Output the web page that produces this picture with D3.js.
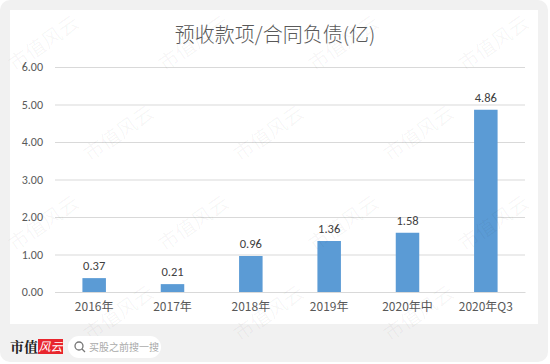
<!DOCTYPE html>
<html>
<head>
<meta charset="utf-8">
<script src="https://cdn.jsdelivr.net/npm/d3@7"></script>
<style>
  html, body { margin: 0; padding: 0; background: #fff; }
  svg { display: block; }
</style>
</head>
<body>
<svg id="chart"></svg>
<script>
const categories = ['2016年', '2017年', '2018年', '2019年', '2020年中', '2020年Q3'];
const values = [0.37, 0.21, 0.96, 1.36, 1.58, 4.86];
const yTicks = [0, 1, 2, 3, 4, 5, 6];

const w = 550;
const h = 364;
const fontCn = '"Noto Sans CJK SC", "Microsoft YaHei", sans-serif';
const fontNum = 'Calibri, Carlito, "Liberation Sans", "Open Sans", sans-serif';

const svg = d3.select('#chart').attr('width', w).attr('height', h);

// outer gray card + white panel
svg.append('rect').attr('x', 0).attr('y', 0).attr('width', w - 2).attr('height', h - 2)
  .attr('rx', 10).attr('fill', '#f1f1f1');
svg.append('rect').attr('x', 10).attr('y', 10).attr('width', 528).attr('height', 314)
  .attr('fill', '#ffffff');

const xScale = d3.scaleBand()
  .domain(categories)
  .range([55, 525])
  .paddingInner(0.7)
  .paddingOuter(0.35);

const yScale = d3.scaleLinear()
  .domain([0, 6])
  .range([292, 67]);

// title
svg.append('text')
  .attr('x', 275).attr('y', 42)
  .attr('text-anchor', 'middle')
  .attr('font-family', fontCn)
  .attr('font-weight', 300)
  .attr('font-size', 20)
  .attr('fill', '#595959')
  .text('预收款项/合同负债(亿)');

// gridlines + y labels
const yAxis = d3.axisLeft(yScale)
  .tickValues(yTicks)
  .tickSize(-470)
  .tickPadding(12)
  .tickFormat(d3.format('.2f'));

const gy = svg.append('g')
  .attr('transform', 'translate(55,0)')
  .call(yAxis);
gy.select('.domain').remove();
gy.selectAll('.tick line').attr('stroke', '#d9d9d9').attr('stroke-width', 1);
gy.selectAll('.tick text')
  .attr('font-family', fontNum)
  .attr('font-size', 12)
  .attr('fill', '#595959');

// x labels
const xAxis = d3.axisBottom(xScale).tickSize(0).tickPadding(10);
const gx = svg.append('g')
  .attr('transform', 'translate(0,292)')
  .call(xAxis);
gx.select('.domain').attr('stroke', '#d9d9d9');
gx.selectAll('.tick text')
  .attr('font-family', fontCn)
  .attr('font-size', 12)
  .attr('fill', '#595959');

// bars
svg.selectAll('rect.bar')
  .data(values)
  .enter()
  .append('rect')
  .attr('class', 'bar')
  .attr('x', (d, i) => xScale(categories[i]))
  .attr('y', (d) => yScale(d))
  .attr('width', xScale.bandwidth())
  .attr('height', (d) => yScale(0) - yScale(d))
  .attr('fill', '#5b9bd5');

// value labels
svg.selectAll('text.val')
  .data(values)
  .enter()
  .append('text')
  .attr('class', 'val')
  .attr('x', (d, i) => xScale(categories[i]) + xScale.bandwidth() / 2)
  .attr('y', (d) => yScale(d) - 8)
  .attr('text-anchor', 'middle')
  .attr('font-family', fontNum)
  .attr('font-size', 12.5)
  .attr('fill', '#404040')
  .text((d) => d.toFixed(2));

// watermark, kept inside the picture
const wm = svg.append('g').attr('pointer-events', 'none');
for (let r = 0; r < 4; r++) {
  for (let c = 0; c < 4; c++) {
    const x = c * 150 + (r % 2) * 75 + 15;
    const y = r * 90 + 72;
    if (x > 470) continue;
    wm.append('text')
      .attr('transform', 'translate(' + x + ',' + y + ') rotate(-35)')
      .attr('font-family', fontCn)
      .attr('font-size', 20)
      .attr('fill', '#000')
      .attr('fill-opacity', 0.04)
      .text('市值风云');
  }
}

// footer
svg.append('text')
  .attr('x', 10).attr('y', 352)
  .attr('font-family', '"Noto Serif CJK SC", ' + fontCn)
  .attr('font-weight', 'bold')
  .attr('font-size', 14)
  .attr('fill', '#222')
  .text('市值');
svg.append('rect').attr('x', 38).attr('y', 339).attr('width', 25).attr('height', 15)
  .attr('fill', '#e8262d');
svg.append('text')
  .attr('x', 50.5).attr('y', 351)
  .attr('text-anchor', 'middle')
  .attr('font-family', fontCn)
  .attr('font-style', 'italic')
  .attr('font-size', 12)
  .attr('fill', '#fff')
  .text('风云');
svg.append('rect').attr('x', 68).attr('y', 336).attr('width', 93).attr('height', 22)
  .attr('rx', 11).attr('fill', '#fff');
svg.append('circle').attr('cx', 79).attr('cy', 346).attr('r', 4)
  .attr('fill', 'none').attr('stroke', '#777').attr('stroke-width', 1.3);
svg.append('line').attr('x1', 82).attr('y1', 349).attr('x2', 85).attr('y2', 352)
  .attr('stroke', '#777').attr('stroke-width', 1.3);
svg.append('text')
  .attr('x', 89).attr('y', 351)
  .attr('font-family', fontCn)
  .attr('font-size', 10)
  .attr('fill', '#aaa')
  .text('买股之前搜一搜');
</script>
</body>
</html>
